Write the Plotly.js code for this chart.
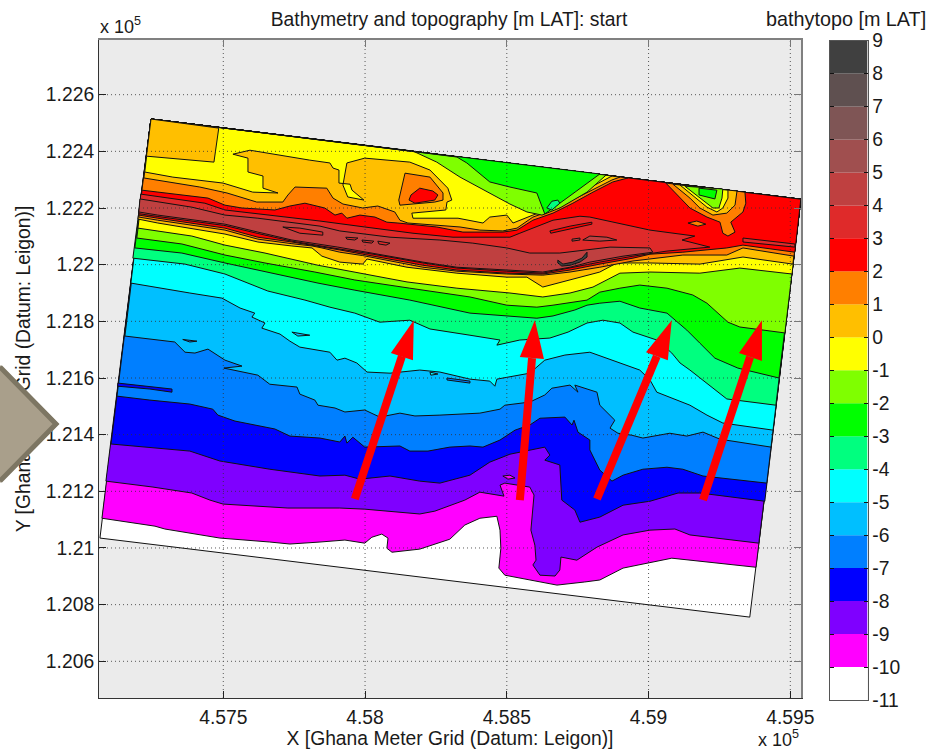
<!DOCTYPE html>
<html><head><meta charset="utf-8">
<script src="https://cdn.plot.ly/plotly-3.0.1.min.js"></script>
<style>html,body{margin:0;padding:0;background:#fff}#wrap{position:relative;width:931px;height:752px;overflow:hidden}#g{width:931px;height:752px}#d{position:absolute;left:0;top:0;pointer-events:none}</style>
</head><body><div id="wrap"><div id="g"></div>
<svg id="d" width="931" height="752"><polygon points="-60,424 0,365 59,424 0,483" fill="#a99f8b" stroke="none"/><polyline points="0,367 56,424 0,481" fill="none" stroke="#7d7663" stroke-width="5"/></svg></div>
<script>
// false origin of the map arrays (metres)
const E0 = 457000, N0 = 120000;
// grid outline
const domE = [65, 2357, 2537, 245], domN = [1035, 756, 2231, 2514];
// band levels and colours
const levels = [-11,-10,-9,-8,-7,-6,-5,-4,-3,-2,-1,0,1,2,3,4,5,6,7,8];
const bandColors = ['#ffffff','#ff00ff','#7f00ff','#0000ff','#007fff','#00bfff','#00ffff','#00ff7f','#00ff00','#7fff00','#ffff00','#ffbf00','#ff7f00','#ff0000','#df2a2a','#bf4040','#a04f4f','#7f5555','#5f5050','#404040'];
const cbTicks = [-11,-10,-9,-8,-7,-6,-5,-4,-3,-2,-1,0,1,2,3,4,5,6,7,8,9];
// sea-side contours
const eM10=[72,259,294,488,664,735,841,929,999,1024,1059,1081,1077,1095,1193,1299,1352,1405,1465,1476,1479,1472,1493,1581,1677,1775,1828,1910,2005,2082,2379];
const nM10=[1105,1077,1067,1035,1021,1014,1021,1028,1017,1038,1049,1035,999,985,996,1031,1081,1105,1112,1063,999,929,904,887,869,880,887,929,947,964,932];
const eM9=[86,252,389,453,499,629,728,841,911,999,1123,1193,1246,1352,1405,1476,1490,1476,1493,1581,1596,1585,1599,1603,1592,1617,1670,1687,1691,1747,1818,1910,2005,2093,2146,2389];
const nM9=[1236,1215,1194,1169,1155,1148,1141,1141,1141,1137,1127,1120,1130,1169,1197,1187,1183,1222,1229,1215,1187,1063,1010,957,940,904,901,922,968,957,1003,1046,1063,1067,1046,1017];
const eM8=[104,382,488,664,841,929,982,1088,1193,1264,1370,1440,1511,1581,1634,1652,1634,1687,1694,1740,1758,1828,1910,2005,2104,2181,2410];
const nM8=[1367,1342,1307,1278,1254,1257,1243,1254,1236,1229,1257,1303,1331,1346,1356,1328,1310,1293,1169,1134,1091,1109,1151,1165,1194,1194,1165];
const eM7=[125,241,382,463,481,541,682,735,841,911,929,936,957,999,1123,1158,1222,1299,1370,1416,1476,1511,1529,1581,1617,1705,1730,1737,1751,1793,1793,1828,1871,1910,1980,2065,2121,2192,2417];
const nM7=[1536,1522,1508,1490,1469,1448,1420,1395,1388,1374,1395,1370,1391,1356,1360,1342,1342,1356,1360,1356,1381,1405,1416,1434,1458,1462,1434,1451,1409,1381,1346,1275,1236,1257,1278,1285,1278,1254,1229];
const eM6=[153,329,365,400,446,506,566,502,622,664,760,770,823,834,894,929,999,1052,1123,1176,1264,1405,1476,1493,1581,1634,1659,1723,1751,1740,1818,1828,1881,1864,1892,1941,1980,2075,2135,2192,2252,2432];
const nM6=[1748,1727,1691,1688,1702,1663,1642,1635,1610,1578,1568,1543,1522,1504,1494,1480,1487,1462,1476,1466,1469,1476,1490,1504,1515,1540,1564,1575,1550,1575,1550,1504,1451,1423,1405,1398,1388,1405,1395,1409,1384,1356];
const eM5=[174,294,382,495,559,611,601,647,636,700,735,770,841,876,901,929,971,1007,1088,1193,1264,1370,1440,1458,1465,1581,1634,1705,1793,1888,1969,2005,2029,2146,2206,2262,2439];
const nM5=[1935,1914,1900,1882,1847,1829,1815,1794,1776,1755,1730,1709,1698,1691,1663,1670,1653,1621,1617,1628,1621,1596,1589,1571,1596,1617,1663,1681,1691,1656,1628,1593,1550,1504,1469,1441,1416];
const eM4=[181,365,506,657,788,876,964,1052,1158,1229,1370,1440,1476,1465,1546,1652,1716,1783,1839,1899,1945,2029,2082,2111,2146,2276,2449];
const nM4=[2023,2002,1967,1907,1875,1850,1829,1797,1804,1773,1751,1741,1734,1716,1734,1741,1762,1794,1804,1794,1762,1734,1688,1653,1628,1526,1504];
const eM3=[188,354,506,671,834,964,1158,1370,1500,1606,1663,1740,1783,1828,1899,1969,2065,2135,2181,2234,2315,2460];
const nM3=[2059,2041,2006,1970,1935,1910,1875,1829,1819,1811,1819,1840,1857,1864,1871,1847,1829,1769,1723,1670,1635,1600];
const eM2=[195,354,506,647,823,964,1158,1370,1500,1606,1663,1783,1828,1899,1969,2065,2156,2206,2280,2322,2481];
const nM2=[2094,2073,2034,2006,1974,1946,1917,1886,1857,1850,1857,1875,1903,1917,1928,1917,1893,1864,1797,1780,1759];
const eM1=[199,389,506,647,834,964,1148,1324,1511,1627,1723,1804,1899,2005,2181,2322,2506];
const nM1=[2129,2101,2069,2041,1998,1974,1939,1917,1900,1886,1900,1921,1970,1974,1970,1988,1967];
const eP0=[199,269,506,622,742,813,848,911,992,1007,1148,1204,1324,1500,1571,1627,1723,1828,1888,2005,2181,2333,2509];
const nP0=[2161,2147,2108,2080,2066,2059,2030,2009,2002,2020,1991,1984,1970,1956,1956,1921,1946,1974,2006,2006,2002,2027,2002];
const eP1=[202,269,506,622,742,813,848,911,992,1028,1148,1204,1324,1500,1627,1723,1828,1945,2121,2276,2333,2513];
const nP1=[2168,2157,2122,2090,2074,2066,2059,2044,2032,2025,2002,1991,1977,1967,1963,1974,1991,2013,2034,2034,2059,2030];
const eP2=[202,269,506,622,742,813,848,911,992,1028,1148,1204,1324,1500,1627,1723,1828,1945,2005,2121,2276,2333,2516];
const nP2=[2175,2164,2129,2097,2080,2069,2062,2052,2037,2030,2009,1998,1981,1970,1967,1981,2002,2023,2037,2044,2059,2069,2044];
// crest bands
const eCrestA=[209,435,506,601,742,841,999,1077,1169,1310,1405,1511,1546,1663,1758,1793,2005,2163,2118,2216,2065,1945,1828,1723,1627,1500,1324,1204,1148,1028,911,848,813,742,622,506,269,202];
const nCrestA=[2249,2217,2193,2182,2164,2154,2133,2122,2111,2097,2097,2097,2111,2157,2171,2168,2122,2101,2087,2062,2048,2030,2009,1988,1970,1977,1988,2006,2016,2037,2055,2066,2073,2083,2110,2138,2170,2180];
const eCrestB=[206,389,506,622,841,911,1088,1264,1380,1500,1581,1687,1864,2005,2015,1910,1793,1723,1627,1500,1324,1204,1028,904,813,742,622,506,269,202];
const nCrestB=[2232,2203,2175,2164,2136,2119,2097,2087,2076,2059,2041,2041,2062,2059,2044,2030,2009,1991,1974,1981,1991,2009,2041,2062,2076,2087,2115,2143,2175,2186];
// lagoon-side contours
const eN2=[213,446,506,566,682,735,788,858,894,918,936,982,1035,1077,1116,1253,1345,1486,1536,1592,1663,1733,1804,1874,1927];
const nN2=[2263,2235,2210,2200,2193,2207,2217,2200,2175,2182,2164,2175,2168,2150,2147,2133,2115,2115,2122,2157,2182,2217,2256,2292,2306];
const eN1=[220,417,513,618,710,728,753,865,887,922,992,1045,1105,1123,1151,1229,1335,1405,1486,1536,1592,1663,1723,1804,1871,1899];
const nN1=[2306,2274,2253,2221,2221,2246,2274,2270,2235,2214,2200,2207,2186,2157,2147,2140,2133,2122,2119,2129,2168,2193,2224,2267,2299,2309];
const eN0=[223,322,499,604,693,640,640,587,587,534,594,675,805,876,887,908,908,947,954,996,939,922,929,936,999,1158,1229,1292,1306,1289,1285,1165,1169,1328,1416,1440,1500,1522,1592,1663,1723,1804,1871];
const nN0=[2327,2309,2288,2256,2253,2270,2313,2327,2376,2390,2404,2390,2369,2359,2341,2334,2288,2284,2263,2228,2239,2281,2316,2359,2376,2362,2334,2270,2228,2221,2193,2182,2164,2164,2147,2168,2175,2147,2175,2203,2235,2277,2313];
const eNm1=[1169,1253,1335,1440,1511,1571,1624,1687,1783,1850];
const nNm1=[2401,2362,2309,2253,2214,2186,2175,2200,2256,2316];
const eNm2=[1324,1359,1440,1511,1606,1634,1712,1828];
const nNm2=[2380,2359,2292,2274,2253,2179,2235,2320];
// closed patches: [eastings, northings, level colour index]
const patches=[
 [[245,484,467,229],[2514,2482,2362,2383],11],
 [[1141,1229,1275,1275,1246,1123,1119],[2323,2309,2253,2228,2221,2210,2228],12],
 [[1193,1239,1257,1246,1176,1155,1162],[2270,2260,2246,2228,2217,2228,2246],13],
 [[2061,2086,2111,2146,2206,2252,2262,2280,2305,2290,2333,2343,2340],[2288,2263,2235,2200,2168,2150,2111,2101,2115,2150,2186,2217,2256],12],
 [[2086,2111,2146,2181,2227,2276,2305,2312],[2284,2263,2235,2200,2175,2182,2210,2260],11],
 [[2111,2146,2206,2241,2262,2280,2280],[2281,2253,2203,2186,2200,2235,2263],10],
 [[2128,2181,2227,2248,2259,2262],[2277,2235,2200,2200,2235,2267],9],
 [[2178,2178,2234,2241],[2270,2246,2232,2263],8],
 [[2139,2170,2202,2174],[2147,2154,2143,2136],12],
 [[2333,2516,2516,2333],[2094,2073,2062,2080],14],
 [[1652,1723,1800,1800,1723,1655],[2119,2136,2150,2143,2126,2111],13],
 [[1680,1698,1733,1765,1783,1783,1758,1723,1694,1680],[2016,2002,2009,2023,2044,2027,2009,1998,1995,2006],19],
 [[710,770,851,851,770],[2133,2129,2115,2104,2111],14],
 [[932,975,964,936],[2097,2094,2087,2090],14],
 [[989,1031,1024,992],[2087,2083,2076,2080],14],
 [[1045,1088,1074,1049],[2083,2076,2069,2073],14],
 [[1730,1758,1758,1730],[2090,2094,2087,2083],15],
 [[1768,1793,1853,1888,1828],[2087,2101,2097,2087,2083],15],
 [[128,319,319,241,128],[1582,1561,1550,1561,1571],3],
 [[357,407,382],[1736,1730,1727],4],
 [[1289,1370,1370,1289],[1600,1589,1582,1593],4],
 [[742,805,763],[1762,1751,1748],5],
 [[1229,1257,1232],[1621,1614,1610],6],
 [[1486,1511,1529,1504],[1254,1257,1247,1243],1],
 [[1641,1659,1680,1687,1659],[2200,2224,2228,2217,2193],7]
];
// arrows: tail, neck, tip, head corners
const arrowTailE=[964,1546,1818,2192], arrowTailN=[1173,1169,1173,1169];
const arrowNeckE=[1130,1589,2029,2358], arrowNeckN=[1677,1670,1677,1674];
const arrowTipE=[1172,1599,2082,2400], arrowTipN=[1804,1804,1804,1804];
const arrowLE=[1091,1546,1991,2319], arrowLN=[1688,1674,1691,1688];
const arrowRE=[1169,1631,2068,2400], arrowRN=[1663,1667,1663,1660];
// axes
const xTicks=[457500,458000,458500,459000,459500], xLabels=['4.575','4.58','4.585','4.59','4.595'];
const yTicks=[120600,120800,121000,121200,121400,121600,121800,122000,122200,122400,122600];
const yLabels=['1.206','1.208','1.21','1.212','1.214','1.216','1.218','1.22','1.222','1.224','1.226'];
const xRange=[457061.6,459537.7], yRange=[120470.5,122793];

const X=a=>a.map(v=>E0+v), Y=a=>a.map(v=>N0+v);
const edge='#111';
const poly=(e,n,c)=>({type:'scatter',mode:'lines',x:X(e.concat(e[0])),y:Y(n.concat(n[0])),fill:'toself',fillcolor:c,line:{color:edge,width:1},hoverinfo:'skip',showlegend:false,xaxis:'x',yaxis:'y'});
const TLe=domE[3],TLn=domN[3],TRe=domE[2],TRn=domN[2];
const sea=(e,n,i)=>poly(e.concat([TRe,TLe]),n.concat([TRn,TLn]),bandColors[i]);
const north=(e,n,i)=>poly(e.concat([TLe]),n.concat([TLn]),bandColors[i]);

const traces=[poly(domE,domN,'#ffffff')];
[[eM10,nM10,1],[eM9,nM9,2],[eM8,nM8,3],[eM7,nM7,4],[eM6,nM6,5],[eM5,nM5,6],[eM4,nM4,7],[eM3,nM3,8],[eM2,nM2,9],[eM1,nM1,10],[eP0,nP0,11],[eP1,nP1,12],[eP2,nP2,13]].forEach(a=>traces.push(sea(a[0],a[1],a[2])));
traces.push(poly(eCrestA,nCrestA,bandColors[14]));
traces.push(poly(eCrestB,nCrestB,bandColors[15]));
[[eN2,nN2,12],[eN1,nN1,11],[eN0,nN0,10],[eNm1,nNm1,9],[eNm2,nNm2,8]].forEach(a=>traces.push(north(a[0],a[1],a[2])));
patches.forEach(p=>traces.push(poly(p[0],p[1],bandColors[p[2]])));

// dotted grid over the map
const gx=[],gy=[];
xTicks.forEach(t=>{gx.push(t,t,null);gy.push(yRange[0],yRange[1],null);});
yTicks.forEach(t=>{gx.push(xRange[0],xRange[1],null);gy.push(t,t,null);});
traces.push({type:'scatter',mode:'lines',x:gx,y:gy,line:{color:'#333',width:1,dash:'1px,3px'},hoverinfo:'skip',showlegend:false,connectgaps:false,opacity:0.8});

// arrows
arrowTailE.forEach((_,i)=>{
 traces.push({type:'scatter',mode:'lines',x:X([arrowTailE[i],arrowNeckE[i]]),y:Y([arrowTailN[i],arrowNeckN[i]]),line:{color:'#ff0000',width:8},hoverinfo:'skip',showlegend:false});
 traces.push({type:'scatter',mode:'lines',x:X([arrowTipE[i],arrowLE[i],arrowRE[i],arrowTipE[i]]),y:Y([arrowTipN[i],arrowLN[i],arrowRN[i],arrowTipN[i]]),fill:'toself',fillcolor:'#ff0000',line:{color:'#ff0000',width:0},hoverinfo:'skip',showlegend:false});
});

// colour bar
traces.push({type:'bar',x:levels.map(()=>0),y:levels.map(()=>1),base:levels,width:1,marker:{color:bandColors,line:{width:0}},xaxis:'x2',yaxis:'y2',hoverinfo:'skip',showlegend:false});
// carrier for the mirrored top/right frame
traces.push({type:'scatter',mode:'none',x:[xTicks[0]],y:[yTicks[0]],xaxis:'x3',yaxis:'y3',hoverinfo:'skip',showlegend:false});

const W=931,H=752,txt='#1a1a1a',F='Liberation Sans, Arial, sans-serif',FS=19.3;
const dx=[99/W,801/W], dy=[1-698/H,1-40/H];
const layout={width:W,height:H,margin:{l:0,r:0,t:0,b:0,pad:0},paper_bgcolor:'#fff',plot_bgcolor:'#ebebeb',showlegend:false,barmode:'overlay',
 font:{family:F,size:FS,color:txt},
 title:{text:'Bathymetry and topography [m LAT]: start',x:449/W,xref:'paper',xanchor:'center',y:1-19/H,yref:'paper',yanchor:'middle',font:{family:F,size:FS,color:txt}},
 xaxis:{domain:dx,range:xRange,tickmode:'array',tickvals:xTicks,ticktext:xLabels,ticks:'inside',ticklen:7,tickcolor:'#222',ticklabelstandoff:2,showgrid:false,zeroline:false,showline:true,linecolor:'#333',linewidth:1,anchor:'y',tickfont:{family:F,size:FS,color:txt},title:{text:'X [Ghana Meter Grid (Datum: Leigon)]',font:{family:F,size:FS,color:txt},standoff:4}},
 yaxis:{domain:dy,range:yRange,tickmode:'array',tickvals:yTicks,ticktext:yLabels,ticks:'inside',ticklen:7,tickcolor:'#222',showgrid:false,zeroline:false,showline:true,linecolor:'#333',linewidth:1,anchor:'x',tickfont:{family:F,size:FS,color:txt},title:{text:'Y [Ghana Meter Grid (Datum: Leigon)]',font:{family:F,size:FS,color:txt},standoff:10}},
 xaxis3:{domain:dx,range:xRange,overlaying:'x',side:'top',anchor:'y3',tickmode:'array',tickvals:xTicks,ticks:'inside',ticklen:7,tickcolor:'#777',showticklabels:false,showgrid:false,zeroline:false,showline:true,linecolor:'#808080',linewidth:2},
 yaxis3:{domain:dy,range:yRange,overlaying:'y',side:'right',anchor:'x3',tickmode:'array',tickvals:yTicks,ticks:'inside',ticklen:7,tickcolor:'#777',showticklabels:false,showgrid:false,zeroline:false,showline:true,linecolor:'#808080',linewidth:2},
 xaxis2:{domain:[829.5/W,867.5/W],range:[-0.5,0.5],anchor:'y2',showticklabels:false,ticks:'',showgrid:false,zeroline:false,showline:true,linecolor:'#555',linewidth:1,mirror:true},
 yaxis2:{domain:[1-700/H,1-40.5/H],range:[-11,9],anchor:'x2',side:'right',tickmode:'array',tickvals:cbTicks,ticktext:cbTicks.map(String),ticks:'inside',ticklen:4,tickcolor:'#111',mirror:'ticks',showgrid:false,zeroline:false,showline:true,linecolor:'#555',linewidth:1,tickfont:{family:F,size:FS,color:txt}},
 annotations:[
  {text:'x 10<sup>5</sup>',xref:'paper',yref:'paper',x:98/W,y:1-26/H,xanchor:'left',yanchor:'middle',showarrow:false,font:{family:F,size:18,color:txt}},
  {text:'x 10<sup>5</sup>',xref:'paper',yref:'paper',x:756/W,y:1-738/H,xanchor:'left',yanchor:'middle',showarrow:false,font:{family:F,size:18,color:txt}},
  {text:'bathytopo [m LAT]',xref:'paper',yref:'paper',x:846/W,y:1-19/H,xanchor:'center',yanchor:'middle',showarrow:false,font:{family:F,size:19.8,color:txt}}
 ]};
Plotly.newPlot('g',traces,layout,{displayModeBar:false,staticPlot:true});
</script></body></html>
